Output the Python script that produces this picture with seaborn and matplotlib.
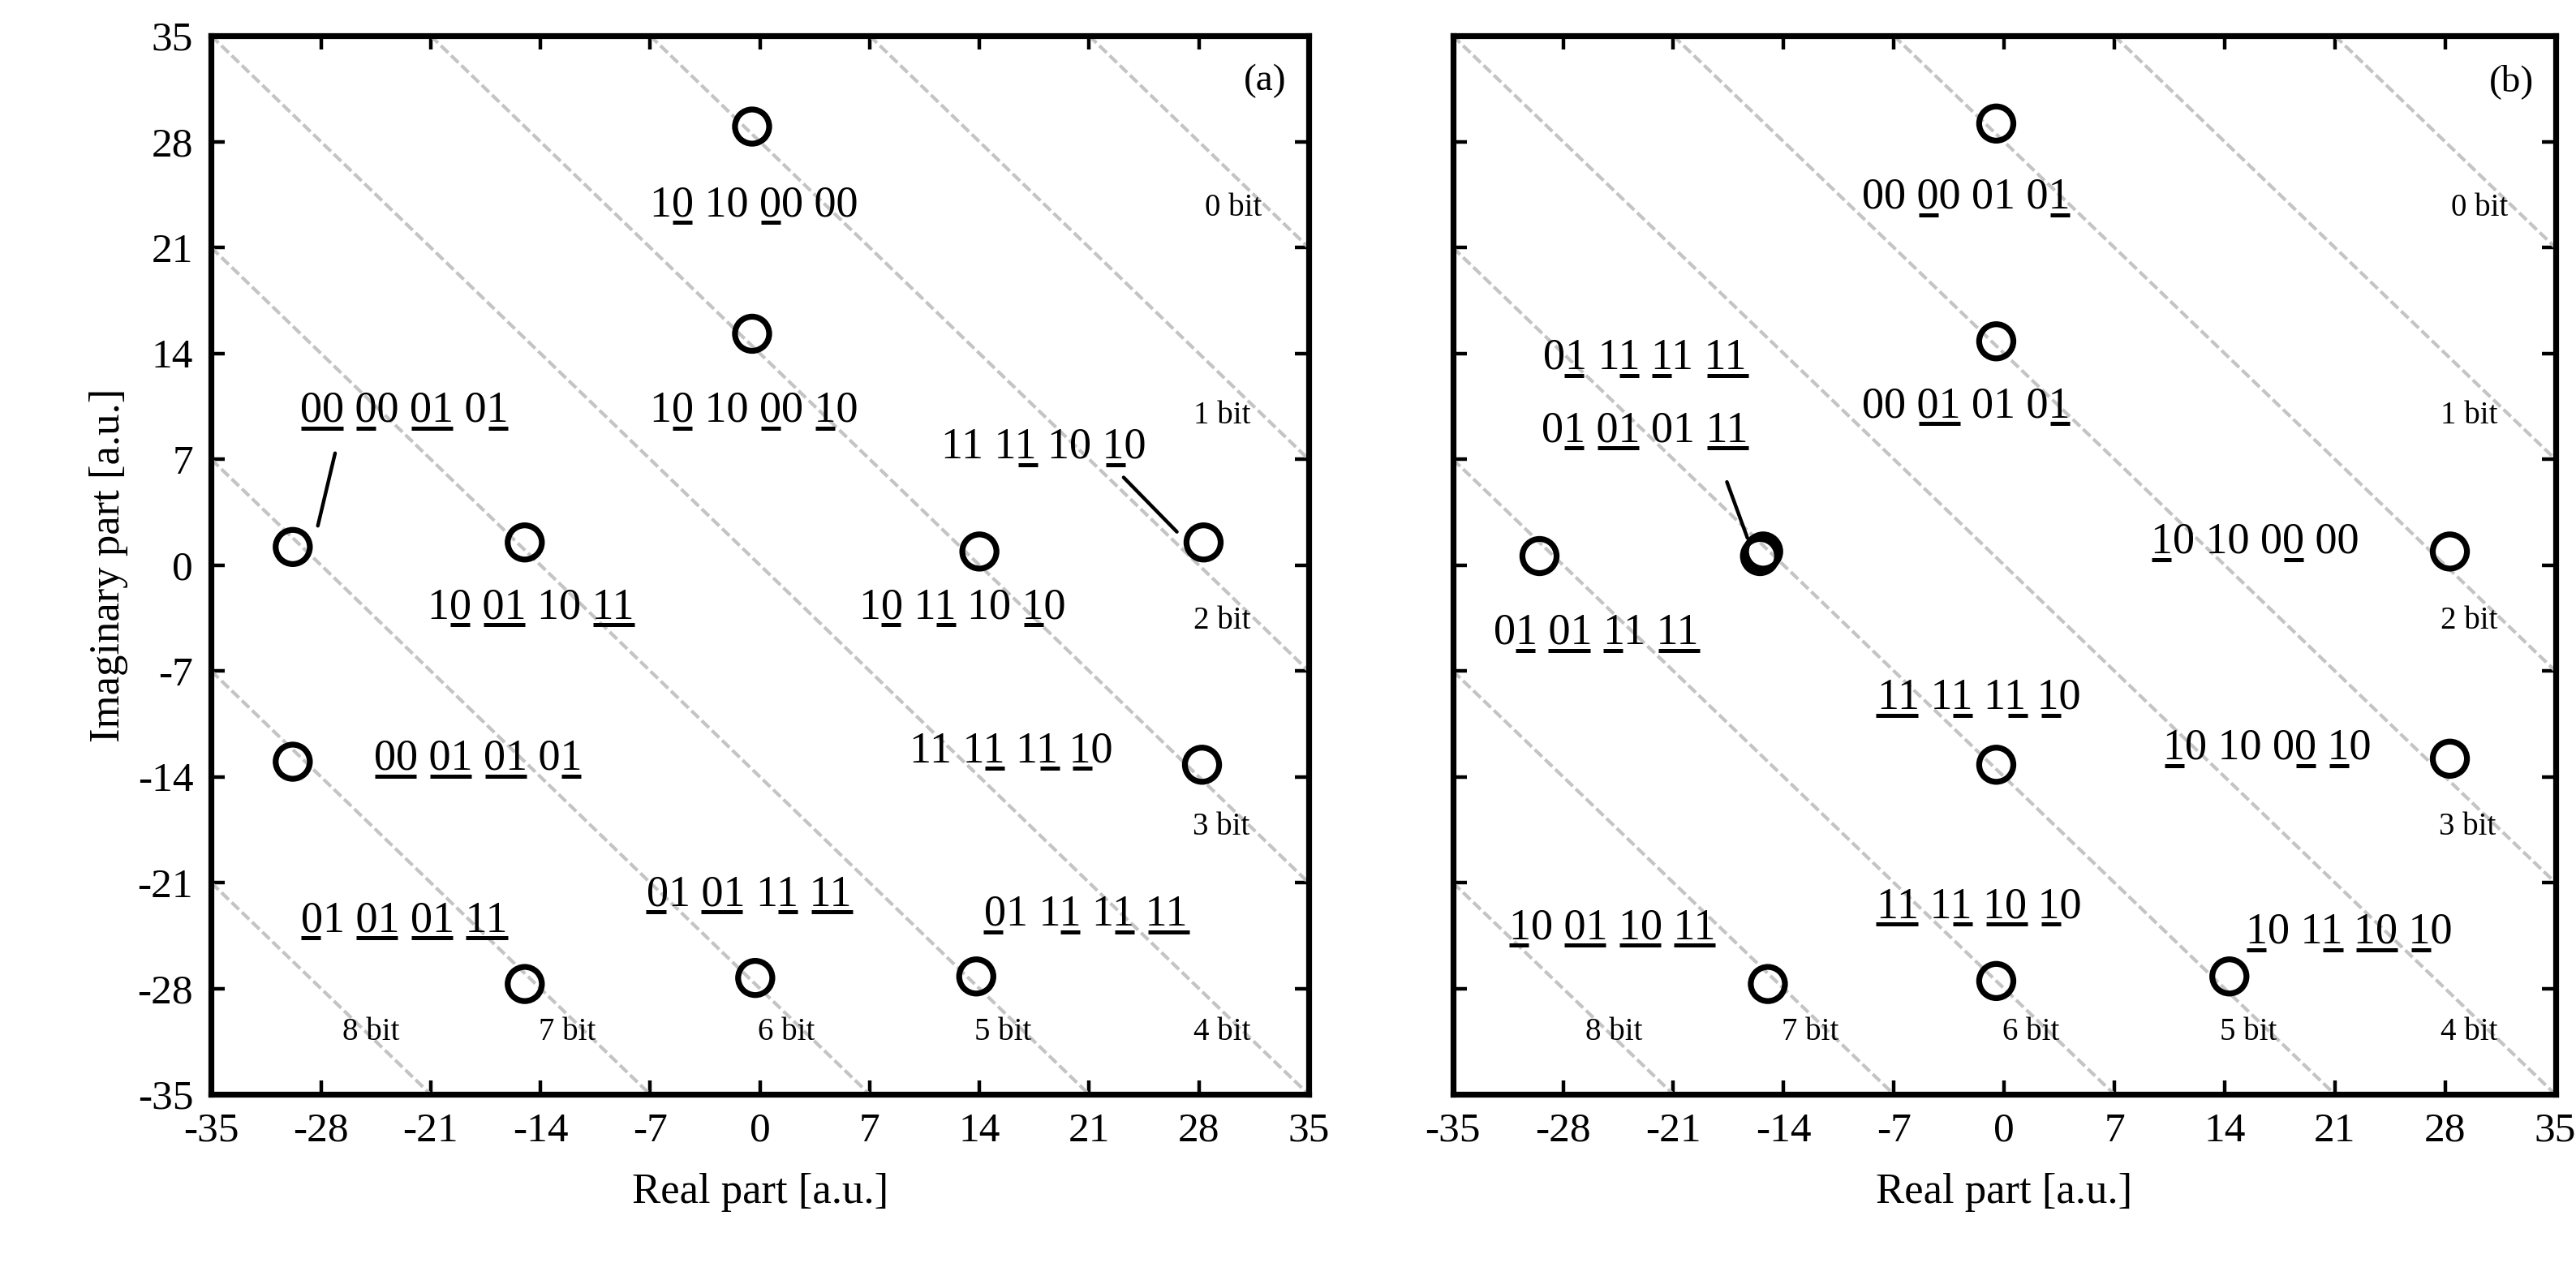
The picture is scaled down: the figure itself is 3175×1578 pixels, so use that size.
import numpy as np
import pandas as pd
import seaborn as sns
import matplotlib
matplotlib.use('Agg')
from matplotlib import pyplot as plt

sns.set_style('ticks')
plt.rcParams['font.family'] = ['Liberation Serif', 'DejaVu Serif']
plt.rcParams['axes.unicode_minus'] = False
plt.rcParams['xtick.direction'] = 'in'
plt.rcParams['ytick.direction'] = 'in'
plt.rcParams['axes.edgecolor'] = 'black'
plt.rcParams['xtick.color'] = 'black'
plt.rcParams['ytick.color'] = 'black'
plt.rcParams['text.color'] = 'black'
plt.rcParams['axes.labelcolor'] = 'black'

# ---- data ----
# constellation points (real, imag)
a_re = [-0.5, -0.5, -29.8, -15.0, 14.0, 28.3, -29.8, 28.2, -15.0, -0.3, 13.8]
a_im = [29.0, 15.3, 1.2, 1.5, 0.9, 1.5, -13.0, -13.2, -27.7, -27.3, -27.2]
b_re = [-0.5, -0.5, -29.5, -15.5, -15.3, 28.3, -0.5, 28.3, -15.0, -0.5, 14.3]
b_im = [29.2, 14.8, 0.6, 0.6, 0.9, 0.9, -13.2, -12.8, -27.7, -27.5, -27.2]

# labels: [] marks underlined bits
a_text = ['1[0] 10 [0]0 00', '1[0] 10 [0]0 [1]0', '[00] [0]0 [01] 0[1]',
          '1[0] [01] 10 [11]', '1[0] 1[1] 10 [1]0', '11 1[1] 10 [1]0',
          '[00] [01] [01] 0[1]', '11 1[1] 1[1] [1]0', '[0]1 [01] [01] [11]',
          '[0]1 [01] 1[1] [11]', '[0]1 1[1] 1[1] [11]']
a_tx = [-0.4, -0.4, -22.7, -14.6, 12.9, 18.1, -18.0, 16.0, -22.7, -0.7, 20.8]
a_ty = [23.8, 10.2, 10.2, -2.8, -2.8, 7.8, -12.8, -12.3, -23.5, -21.8, -23.1]
a_lead = [[(-27.1, 7.4), (-28.2, 2.6)], [(23.2, 5.8), (26.6, 2.2)]]

b_text = ['00 [0]0 01 0[1]', '00 [01] 01 0[1]', '0[1] 1[1] [1]1 [11]',
          '0[1] [01] 01 [11]', '0[1] [01] [1]1 [11]', '[1]0 10 0[0] 00',
          '[11] 1[1] 1[1] [1]0', '[1]0 10 0[0] [1]0', '[1]0 [01] [10] [11]',
          '[11] 1[1] [10] [1]0', '[1]0 1[1] [10] [1]0']
b_tx = [-2.4, -2.4, -22.8, -22.8, -25.9, 15.9, -1.6, 16.7, -24.9, -1.6, 21.9]
b_ty = [24.3, 10.5, 13.7, 8.9, -4.5, 1.5, -8.8, -12.1, -24.0, -22.6, -24.3]
b_lead = [[(-17.6, 5.5), (-16.3, 1.8)]]

bit_text = ['0 bit', '1 bit', '2 bit', '3 bit', '4 bit', '5 bit', '6 bit', '7 bit', '8 bit']
bit_x = [30.2, 29.5, 29.5, 29.4, 29.5, 15.5, 1.7, -12.3, -24.8]
bit_y = [23.6, 9.9, -3.7, -17.3, -30.9, -30.9, -30.9, -30.9, -30.9]

boundaries = [-56, -42, -28, -14, 0, 14, 28, 42, 56]
ticks = np.arange(-35, 36, 7)

DPI = 200
LABEL_FS = 19.5

fig = plt.figure(figsize=(15.875, 7.89), dpi=DPI)
ax_a = fig.add_axes([0.082, 0.145, 0.426, 0.827])
ax_b = fig.add_axes([0.564, 0.145, 0.428, 0.827])

panels = [(ax_a, a_re, a_im, a_text, a_tx, a_ty, a_lead, '(a)'),
          (ax_b, b_re, b_im, b_text, b_tx, b_ty, b_lead, '(b)')]

label_objs = []
for ax, re_, im_, txt, tx, ty, lead, tag in panels:
    for c in boundaries:
        ax.axline((0, c), slope=-1, color='#c4c4c4', lw=1.5, ls=(0, (3, 1.2)), zorder=1)
    df = pd.DataFrame({'re': re_, 'im': im_})
    sns.scatterplot(data=df, x='re', y='im', ax=ax, marker='o', s=230,
                    facecolors='none', edgecolor='black', linewidth=2.6, zorder=3)
    for (p0, p1) in lead:
        ax.plot([p0[0], p1[0]], [p0[1], p1[1]], color='black', lw=1.6, zorder=2)
    for s, x, y in zip(txt, tx, ty):
        plain = s.replace('[', '').replace(']', '')
        mask = []
        inside = False
        for ch in s:
            if ch == '[':
                inside = True
            elif ch == ']':
                inside = False
            else:
                mask.append(inside)
        t = ax.text(x, y, plain, ha='center', va='center', fontsize=LABEL_FS, zorder=4)
        label_objs.append((ax, t, plain, mask))
    for s, x, y in zip(bit_text, bit_x, bit_y):
        ax.text(x, y, s, ha='center', va='center', fontsize=14)
    ax.text(32.2, 32.0, tag, ha='center', va='center', fontsize=17)

    ax.set_xlim(-35, 35)
    ax.set_ylim(-35, 35)
    ax.set_xticks(ticks)
    ax.set_yticks(ticks)
    ax.tick_params(direction='in', length=6, width=1.6, top=True, right=True,
                   labelsize=18.5, pad=8)
    for sp in ax.spines.values():
        sp.set_linewidth(2.6)
    ax.set_xlabel('Real part [a.u.]', fontsize=19, labelpad=10)
    ax.set_ylabel('')

ax_a.set_ylabel('Imaginary part [a.u.]', fontsize=19, labelpad=4)
ax_b.set_yticklabels([])

# underline the marked bits (digits advance 0.5 em, space 0.25 em in Times-like fonts)
fig.canvas.draw()
renderer = fig.canvas.get_renderer()
em = LABEL_FS * DPI / 72.0
for ax, t, plain, mask in label_objs:
    bb = t.get_window_extent(renderer)
    adv = [0.25 * em if ch == ' ' else 0.5 * em for ch in plain]
    start = bb.x0 + (bb.width - sum(adv)) / 2.0
    pos = np.concatenate([[0.0], np.cumsum(adv)]) + start
    inv = ax.transData.inverted()
    i = 0
    n = len(plain)
    while i < n:
        if mask[i]:
            j = i
            while j + 1 < n and mask[j + 1]:
                j += 1
            yl = bb.y0 + 4
            (dx0, dy), (dx2, _) = inv.transform([(pos[i] + 2, yl), (pos[j + 1] - 1, yl)])
            ax.plot([dx0, dx2], [dy, dy], color='black', lw=1.8, zorder=4,
                    solid_capstyle='butt')
            i = j + 1
        else:
            i += 1

fig.savefig('out.png', dpi=DPI)
